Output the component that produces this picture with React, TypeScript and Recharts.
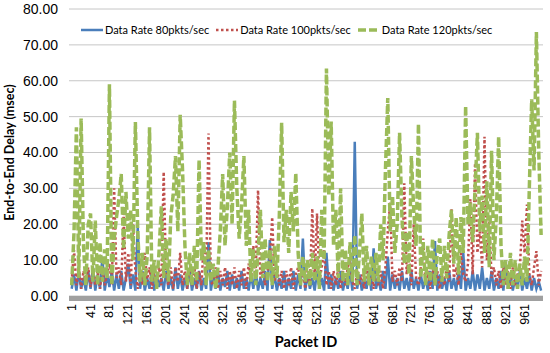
import { LineChart, Line, XAxis, YAxis, CartesianGrid, Legend } from 'recharts'

// packet ids sampled every 5 packets (1, 6, 11, ... 996)
const packetIds = Array.from({ length: 200 }, (_, i) => 1 + i * 5)

const xTicks = [1, 41, 81, 121, 161, 201, 241, 281, 321, 361, 401, 441, 481, 521, 561, 601, 641, 681, 721, 761, 801, 841, 881, 921, 961]
const yTicks = [0, 10, 20, 30, 40, 50, 60, 70, 80]

// Data Rate 80pkts/sec
const rate80 = [
  2, 6, 1.5, 7, 2, 5, 1.5, 7, 2, 8,
  1.5, 6, 2, 11, 1.5, 6, 2.5, 7, 1.5, 6,
  2, 7, 1.5, 5, 9, 2, 6, 1.5, 19.3, 2,
  7, 1.5, 5, 2, 7, 1.5, 6, 2.5, 5, 1.5,
  7, 2, 5, 1.5, 8, 2, 6, 1.5, 5, 2,
  7, 1.5, 5, 2, 7, 1.5, 5, 2, 15, 1.5,
  6, 2, 7, 1.5, 5, 2.5, 7, 1.5, 6, 2,
  5, 1.5, 7, 2, 5, 1.5, 6, 2, 7, 1.5,
  5, 2, 7, 1.5, 15.6, 2, 6, 1.5, 5, 2,
  7, 1.5, 5, 2, 7, 1.5, 6, 2, 16, 1.5,
  6, 2, 5, 1.5, 7, 2, 5, 1.5, 12, 2,
  6, 1.5, 5, 2, 7, 1.5, 5, 2, 7, 1.5,
  43, 2, 6, 1.5, 5, 2, 7, 1.5, 13.3, 2,
  5, 1.5, 7, 2, 11, 1.5, 6, 2, 5, 1.5,
  7, 2, 5, 1.5, 7, 2, 5, 1.5, 6, 2,
  5, 1.5, 7, 2, 15.3, 1.5, 6, 2, 5, 1.5,
  7, 2, 5, 1.5, 7, 2, 12, 1.5, 5, 2,
  7, 1.5, 6, 2, 8, 1.5, 5, 2, 7, 1.5,
  5, 2, 7, 1.5, 9.6, 2, 6, 1.5, 5, 2,
  7, 1.5, 5, 2, 6, 1.5, 5, 2, 4, 1.5,
]

// Data Rate 100pkts/sec
const rate100 = [
  4, 12.8, 3, 8, 2, 7, 3, 8, 2.5, 7,
  3, 7, 2, 8, 3, 6, 9, 3, 30, 5,
  8, 3, 23, 4, 12, 3, 20, 7, 2, 7,
  3, 12, 4, 8, 2, 7, 3, 8, 3, 34.6,
  6, 3, 8, 2, 8, 4, 12, 3, 7, 2,
  7, 3, 8, 2, 7, 3, 15, 5, 45.3, 4,
  3, 8, 2, 7, 3, 8, 2, 7, 3, 8,
  2, 7, 3, 8, 2, 9, 4, 14, 6, 29.5,
  5, 8, 3, 7, 10, 22, 4, 8, 3, 7,
  2, 7, 3, 8, 2, 6, 8, 3, 7, 2,
  7, 3, 24.4, 5, 23, 4, 8, 13, 3, 7,
  2, 7, 3, 8, 2, 7, 3, 8, 10, 4,
  2, 7, 3, 6, 2, 8, 3, 7, 2, 8,
  3, 7, 2, 8, 18, 26, 4, 7, 3, 8,
  4, 31.4, 6, 12, 3, 20, 5, 3, 8, 16,
  3, 7, 2, 8, 3, 7, 2, 6, 3, 8,
  4, 24.4, 5, 8, 3, 12, 6, 4, 9, 27,
  6, 37, 12, 18, 8, 44.4, 10, 21.6, 5, 8,
  3, 7, 2, 8, 3, 7, 2, 8, 3, 6,
  8, 21, 12, 25.5, 6, 3, 8, 12.5, 3, 7,
]

// Data Rate 120pkts/sec
const rate120 = [
  3, 18, 47, 5, 49.5, 14, 3, 20, 23, 4,
  21, 3, 15, 4, 13, 5, 59, 3, 16, 22,
  27, 34, 13, 29, 16, 24, 10, 48.5, 18, 4,
  12, 3, 11, 47, 4, 10, 2, 12, 25, 5,
  16, 4, 22, 28, 39, 18, 50.5, 35, 14, 3,
  12, 3, 14, 4, 38, 10, 15, 3, 13, 4,
  9, 2, 8, 18, 34, 14, 25, 40, 20, 54.5,
  30, 16, 25, 39, 14, 24, 4, 13, 3, 12,
  24, 5, 16, 4, 13, 3, 14, 5, 22, 48.3,
  15, 24, 12, 29, 18, 34.3, 12, 3, 11, 4,
  10, 3, 12, 4, 11, 2, 24, 10, 63.4, 28,
  48.6, 14, 24, 5, 30, 4, 13, 3, 15, 4,
  17, 3, 12, 23, 4, 14, 3, 11, 4, 12,
  4, 20, 10, 35, 55.2, 18, 28, 12, 20, 45.5,
  22, 9, 18, 6, 39, 24, 14, 48, 5, 15,
  3, 14, 4, 16, 3, 12, 16, 4, 14, 5,
  17, 24, 9, 22, 6, 22, 12, 53, 20, 26,
  15, 30, 45.5, 18, 28, 12, 32, 8, 40.5, 10,
  22, 44.4, 14, 3, 10, 2, 12, 3, 10, 2,
  9, 3, 11, 4, 30, 54.8, 35, 73.6, 40, 17,
]

const data = packetIds.map((id, i) => ({
  id,
  r80: rate80[i],
  r100: rate100[i],
  r120: rate120[i],
}))

const series = [
  { key: 'r80', name: 'Data Rate 80pkts/sec', color: '#4a7ebb', width: 2.5, dash: undefined },
  { key: 'r100', name: 'Data Rate 100pkts/sec', color: '#c0504d', width: 2.5, dash: '2.5 2.5' },
  { key: 'r120', name: 'Data Rate 120pkts/sec', color: '#9bbb59', width: 3.5, dash: '8 3' },
]

const XTick = ({ x, y, payload }: any) => (
  <text
    x={x}
    y={y}
    transform={`rotate(-90 ${x} ${y})`}
    textAnchor="end"
    dominantBaseline="central"
    fontFamily="'Liberation Sans', Arial, sans-serif"
    fontSize={12.5}
    fill="#000"
  >
    {payload.value}
  </text>
)

const renderLegend = () => (
  <div style={{ display: 'flex', alignItems: 'center', fontFamily: 'Lato, sans-serif', fontSize: 11, color: '#000', whiteSpace: 'nowrap' }}>
    {series.map((s) => (
      <div key={s.key} style={{ display: 'flex', alignItems: 'center', marginRight: 7 }}>
        <svg width={22} height={6}>
          <line x1={0} y1={3} x2={22} y2={3} stroke={s.color} strokeWidth={s.width} strokeDasharray={s.dash} />
        </svg>
        <span style={{ marginLeft: 2 }}>{s.name}</span>
      </div>
    ))}
  </div>
)

export default function App() {
  return (
    <div style={{ position: 'absolute', left: 0, top: 0, width: 550, height: 353, background: '#fff' }}>
      <LineChart width={550} height={353} data={data} margin={{ top: 9, right: 7, bottom: 0, left: 0 }}>
        <CartesianGrid stroke="#c6c6c6" vertical={false} />
        <XAxis
          dataKey="id"
          type="number"
          domain={[-4.7, 1000]}
          ticks={xTicks}
          interval={0}
          height={57}
          tick={<XTick />}
          tickLine={false}
          axisLine={{ stroke: '#a0a0a0', strokeWidth: 5, transform: 'translate(0 2.5)' }}
          label={{
            value: 'Packet ID',
            position: 'insideBottom',
            offset: 6,
            style: { fontFamily: 'Lato, sans-serif', fontWeight: 700, fontSize: 14.5, fill: '#000' },
          }}
        />
        <YAxis
          domain={[0, 80]}
          ticks={yTicks}
          width={69}
          tickLine={false}
          axisLine={false}
          tickMargin={5}
          tickFormatter={(v: number) => v.toFixed(2)}
          tick={{ fontFamily: "'Liberation Sans', Arial, sans-serif", fontSize: 14, fill: '#000' }}
          label={{
            value: 'End-to-End Delay (msec)',
            angle: -90,
            position: 'insideLeft',
            offset: 10,
            style: { textAnchor: 'middle', fontFamily: 'Lato, sans-serif', fontWeight: 700, fontSize: 12.5, fill: '#000' },
          }}
        />
        <Legend
          layout="horizontal"
          verticalAlign="middle"
          align="center"
          content={renderLegend}
          wrapperStyle={{ top: 23, left: 81, width: 'auto' }}
        />
        {series.map((s) => (
          <Line
            key={s.key}
            type="linear"
            dataKey={s.key}
            name={s.name}
            stroke={s.color}
            strokeWidth={s.width}
            strokeDasharray={s.dash}
            dot={false}
            isAnimationActive={false}
          />
        ))}
      </LineChart>
    </div>
  )
}
